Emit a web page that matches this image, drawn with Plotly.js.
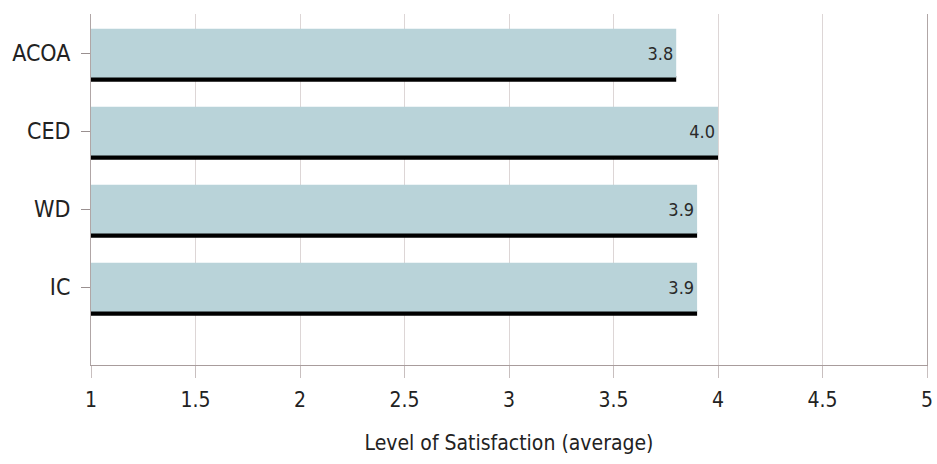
<!DOCTYPE html>
<html>
<head>
<meta charset="utf-8">
<script src="https://cdn.plot.ly/plotly-3.0.1.min.js"></script>
<style>
  html, body { margin: 0; padding: 0; background: #ffffff; }
  #chart { width: 937px; height: 464px; }
</style>
</head>
<body>
<div id="chart"></div>
<script>
// Average satisfaction by organisation
const categories = ["ACOA", "CED", "WD", "IC"];
const satisfaction = [3.8, 4.0, 3.9, 3.9];
const valueLabels = ["3.8", "4.0", "3.9", "3.9"];
const xTickValues = [1, 1.5, 2, 2.5, 3, 3.5, 4, 4.5, 5];
const xTickLabels = ["1", "1.5", "2", "2.5", "3", "3.5", "4", "4.5", "5"];

const font = "'DejaVu Sans Condensed', 'Liberation Sans Narrow', 'Arial Narrow', sans-serif";
const axisBase = 1;

// Dark underline drawn beneath each bar
const shadow = {
  type: "bar",
  orientation: "h",
  y: categories,
  x: satisfaction.map(v => v - axisBase),
  base: axisBase,
  width: 0.075,
  offset: 0.295,
  marker: { color: "#000000", line: { width: 0 } },
  hoverinfo: "skip",
  showlegend: false
};

const bars = {
  type: "bar",
  orientation: "h",
  y: categories,
  x: satisfaction.map(v => v - axisBase),
  base: axisBase,
  width: 0.625,
  offset: -0.31,
  marker: { color: "#b9d3d9", line: { width: 0 } },
  text: valueLabels,
  textposition: "inside",
  insidetextanchor: "end",
  textfont: { family: font, size: 18, color: "#2a2a2a" },
  cliponaxis: false,
  showlegend: false
};

const layout = {
  width: 937,
  height: 464,
  margin: { l: 91, r: 10, t: 14, b: 99 },
  paper_bgcolor: "#ffffff",
  plot_bgcolor: "#ffffff",
  barmode: "overlay",
  font: { family: font, size: 20, color: "#222222" },
  xaxis: {
    range: [1, 5],
    tickvals: xTickValues,
    ticktext: xTickLabels,
    showgrid: true,
    gridcolor: "#ddd6d6",
    gridwidth: 1,
    zeroline: false,
    showline: true,
    linecolor: "#a89c9c",
    linewidth: 1,
    ticks: "outside",
    ticklen: 12,
    tickcolor: "#c8bfbf",
    tickfont: { family: font, size: 21, color: "#222222" },
    ticklabelstandoff: 4,
    ticklabeloverflow: "allow",
    title: {
      text: "Level of Satisfaction (average)",
      font: { family: font, size: 21, color: "#222222" },
      standoff: 24
    },
    fixedrange: true
  },
  yaxis: {
    type: "category",
    categoryorder: "array",
    categoryarray: categories,
    range: [4, -0.5],
    showgrid: false,
    zeroline: false,
    showline: true,
    mirror: true,
    linecolor: "#b0a6a6",
    linewidth: 1,
    ticks: "outside",
    ticklen: 9,
    tickcolor: "#9a9090",
    tickfont: { family: font, size: 23, color: "#222222" },
    ticklabelstandoff: 6,
    fixedrange: true
  }
};

Plotly.newPlot("chart", [shadow, bars], layout, { displayModeBar: false, staticPlot: true });
</script>
</body>
</html>
